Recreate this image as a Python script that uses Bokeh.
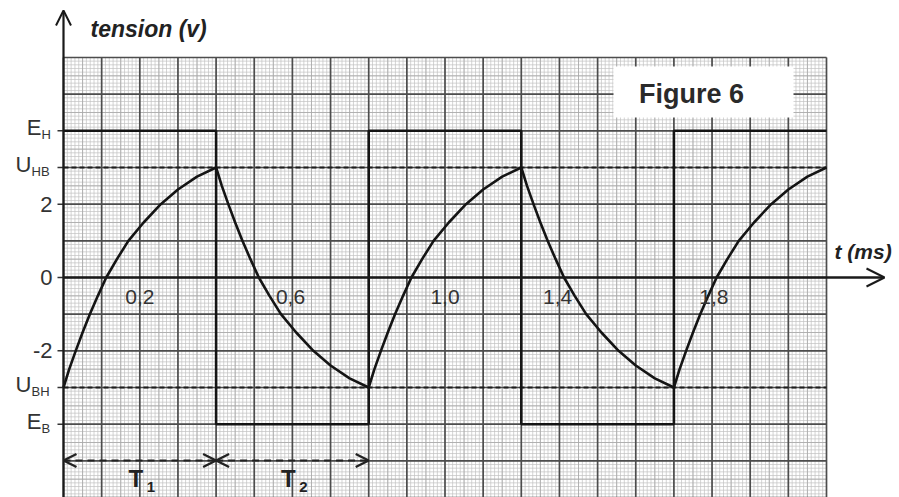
from bokeh.plotting import figure
from bokeh.models import Arrow, OpenHead, Range1d
from bokeh.core.properties import value
from bokeh.embed import file_html
from bokeh.resources import INLINE
import numpy as np

# ---------------- data ----------------
# generator square wave: time (ms) / tension (V)
square_t = [0.0, 0.4, 0.4, 0.8, 0.8, 1.2, 1.2, 1.6, 1.6, 2.0]
square_v = [4, 4, -4, -4, 4, 4, -4, -4, 4, 4]
# threshold levels
U_HB = 3
U_BH = -3
# one charging branch: time since switching (ms) and tension (V)
charge_dt = [0.0, 0.015, 0.032, 0.05, 0.069, 0.09, 0.112, 0.14, 0.17, 0.21, 0.255, 0.3, 0.35, 0.4]
charge_v = [-3, -2.5, -2, -1.5, -1, -0.5, 0, 0.5, 1, 1.5, 2, 2.4, 2.75, 3]
# start of each branch (ms) and sense (+1 charge, -1 discharge)
branch_start = [0.0, 0.4, 0.8, 1.2, 1.6]
branch_sense = [1, -1, 1, -1, 1]
# y tick labels
ytick_vals = [4, 3, 2, 0, -2, -3, -4]
ytick_main = ["E", "U", "2", "0", "-2", "U", "E"]
ytick_sub = ["H", "HB", "", "", "", "BH", "B"]
# x tick labels (as printed)
xtick_labels = ["0,2", "0,6", "1,0", "1,4", "1,8"]
xtick_pos = [0.2, 0.595, 1.0, 1.295, 1.705]
# periods T1, T2
period_bounds = [0.0, 0.4, 0.8]
period_subs = ["1", "2"]

# ---------------- geometry ----------------
W, H = 899, 497
OX, OY = 63, 277          # image px of origin
SX, SY = 381.5, 36.67     # px per ms, px per V


def tx(px):
    return (px - OX) / SX


def vy(py):
    return (OY - py) / SY


p = figure(width=W, height=H, output_backend="svg", toolbar_location=None,
           x_range=Range1d(tx(0), tx(W)), y_range=Range1d(vy(H), vy(0)),
           x_axis_location=None, y_axis_location=None, min_border=0,
           background_fill_color="white", border_fill_color="white")
p.grid.visible = False
p.outline_line_color = None

font = value("Liberation Sans")
TMAX, VMAX, VMIN = 2.0, 6.0, -6.5

# graph paper: minor lines
mt = np.round(np.arange(0, 201) * 0.01, 3)
mv = np.round(np.arange(-65, 61) * 0.1, 3)
p.segment(x0=mt, y0=VMIN, x1=mt, y1=VMAX, line_color="#c2c2c2", line_width=0.7)
p.segment(x0=0, y0=mv, x1=TMAX, y1=mv, line_color="#c2c2c2", line_width=0.7)
# mid lines
ht = np.round(np.arange(0, 20) * 0.1 + 0.05, 3)
hv = np.round(np.arange(-7, 6) + 0.5, 3)
p.segment(x0=ht, y0=VMIN, x1=ht, y1=VMAX, line_color="#a8a8a8", line_width=0.8)
p.segment(x0=0, y0=hv, x1=TMAX, y1=hv, line_color="#a8a8a8", line_width=0.8)
# major lines
Mt = np.round(np.arange(0, 21) * 0.1, 3)
Mv = np.arange(-7, 7)
p.segment(x0=Mt, y0=VMIN, x1=Mt, y1=VMAX, line_color="#4d4d4d", line_width=1.7)
p.segment(x0=0, y0=Mv, x1=TMAX, y1=Mv, line_color="#4d4d4d", line_width=1.7)

# white box for the title
p.quad(left=tx(613), right=tx(793), bottom=vy(117), top=vy(66),
       fill_color="white", line_color=None)
p.text(x=[tx(691)], y=[vy(93)], text=["Figure 6"], text_font=font,
       text_font_style="bold", text_font_size="27px", text_color="#2a2a2a",
       text_align="center", text_baseline="middle")

# dashed thresholds
p.segment(x0=0, y0=[U_HB, U_BH], x1=TMAX, y1=[U_HB, U_BH],
          line_color="#1e1e1e", line_width=1.8, line_dash="5 3")

# square wave
p.line(square_t, square_v, line_color="#141414", line_width=2.6)

# capacitor tension
for s, d in zip(branch_start, branch_sense):
    p.line([s + t for t in charge_dt], [d * v for v in charge_v],
           line_color="#141414", line_width=2.6)

# axes with arrows
p.add_layout(Arrow(x_start=0, y_start=VMIN, x_end=0, y_end=vy(10),
                   line_width=2.2, line_color="#1a1a1a",
                   end=OpenHead(size=15, line_width=2, line_color="#1a1a1a")))
p.add_layout(Arrow(x_start=0, y_start=0, x_end=tx(884), y_end=0,
                   line_width=2.4, line_color="#1a1a1a",
                   end=OpenHead(size=18, line_width=2, line_color="#1a1a1a")))

# y ticks
p.segment(x0=tx(OX - 6), y0=ytick_vals, x1=0, y1=ytick_vals, line_color="#333", line_width=1.5)

# y labels with subscripts
main_off = [-(11 + 10 * len(s)) - (1 if s else 0) for s in ytick_sub]
main_dy = [-3 if s else 0 for s in ytick_sub]
p.text(x=[0] * len(ytick_vals), y=ytick_vals, text=ytick_main, x_offset=main_off, y_offset=main_dy,
       text_font=font, text_font_size="22px", text_color="#333333",
       text_align="right", text_baseline="middle")
sub_idx = [i for i, s in enumerate(ytick_sub) if s]
p.text(x=[0] * len(sub_idx), y=[ytick_vals[i] for i in sub_idx],
       text=[ytick_sub[i] for i in sub_idx], x_offset=[main_off[i] for i in sub_idx], y_offset=4,
       text_font=font, text_font_size="13px", text_color="#333333",
       text_align="left", text_baseline="middle")

# x tick labels
p.text(x=xtick_pos, y=[0] * len(xtick_pos), text=xtick_labels, y_offset=19,
       text_font=font, text_font_size="21px", text_color="#333333",
       text_align="center", text_baseline="middle")

# axis titles
p.text(x=[tx(90)], y=[vy(28)], text=["tension (v)"], text_font=font,
       text_font_style="bold italic", text_font_size="23px", text_color="#222222",
       text_align="left", text_baseline="middle")
p.text(x=[tx(834)], y=[vy(251)], text=["t (ms)"], text_font=font,
       text_font_style="bold italic", text_font_size="21px", text_color="#222222",
       text_align="left", text_baseline="middle")

# period arrows T1, T2
yT = vy(460)
for a, b in zip(period_bounds[:-1], period_bounds[1:]):
    p.add_layout(Arrow(x_start=a, y_start=yT, x_end=b, y_end=yT,
                       line_width=2, line_color="#222222", line_dash="7 5",
                       start=OpenHead(size=13, line_width=2.4, line_color="#222222"),
                       end=OpenHead(size=13, line_width=2.4, line_color="#222222")))
mid = [(a + b) / 2 for a, b in zip(period_bounds[:-1], period_bounds[1:])]
p.text(x=mid, y=[yT] * len(mid), text=["T"] * len(mid), x_offset=-4, y_offset=18,
       text_font=font, text_font_style="bold", text_font_size="24px", text_color="#222222",
       text_align="center", text_baseline="middle")
p.text(x=mid, y=[yT] * len(mid), text=period_subs, x_offset=11, y_offset=26,
       text_font=font, text_font_style="bold", text_font_size="15px", text_color="#222222",
       text_align="center", text_baseline="middle")

open("out.html", "w").write(file_html(p, INLINE))
